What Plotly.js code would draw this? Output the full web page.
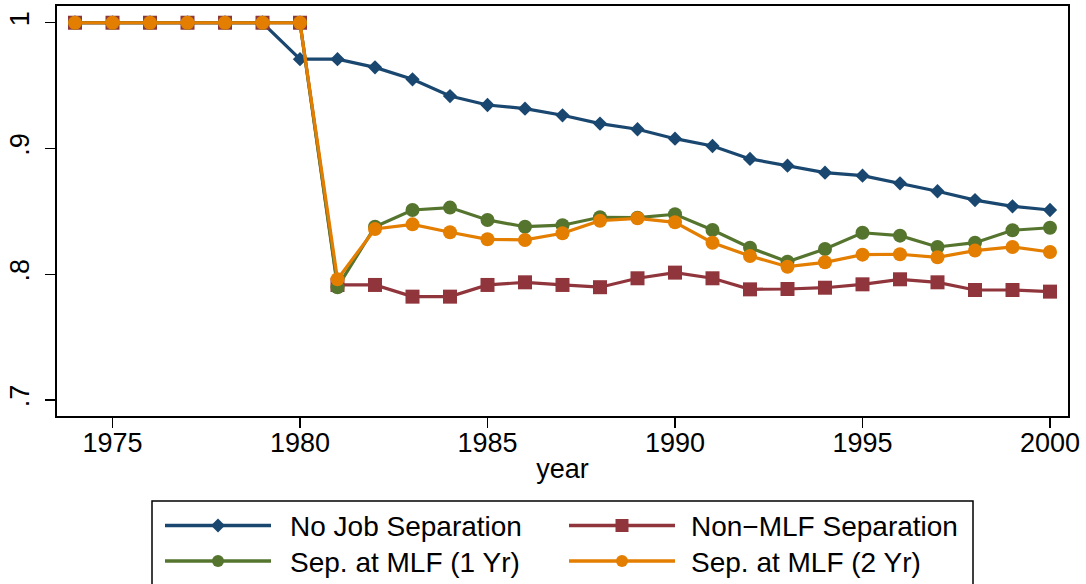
<!DOCTYPE html>
<html>
<head>
<meta charset="utf-8">
<script src="https://cdn.plot.ly/plotly-3.0.1.min.js"></script>
<style>html,body{margin:0;padding:0;background:#fff;}#chart{width:1086px;height:584px;}</style>
</head>
<body>
<div id="chart"></div>
<script>
const years = [1974,1975,1976,1977,1978,1979,1980,1981,1982,1983,1984,1985,1986,1987,1988,1989,1990,1991,1992,1993,1994,1995,1996,1997,1998,1999,2000];
const noJobSep = [1,1,1,1,1,1,0.971,0.971,0.9645,0.955,0.9417,0.9346,0.9317,0.9264,0.9198,0.9153,0.9078,0.902,0.8917,0.8863,0.8808,0.8784,0.8723,0.866,0.859,0.854,0.8511];
const nonMLFSep = [1,1,1,1,1,1,1,0.7915,0.7915,0.7822,0.7822,0.7915,0.7936,0.7915,0.7897,0.7968,0.8013,0.7968,0.788,0.7883,0.7893,0.792,0.796,0.7936,0.7875,0.7875,0.7862];
const sepMLF1 = [1,1,1,1,1,1,1,0.7897,0.8378,0.8511,0.853,0.8432,0.8378,0.839,0.8453,0.845,0.8477,0.8352,0.8211,0.81,0.8201,0.833,0.8307,0.8217,0.8251,0.835,0.837];
const sepMLF2 = [1,1,1,1,1,1,1,0.796,0.836,0.8397,0.8334,0.8278,0.8273,0.8326,0.8426,0.8445,0.8413,0.8251,0.8145,0.806,0.8095,0.8156,0.8159,0.8135,0.8188,0.8217,0.8177];
const seriesNames = ["No Job Separation","Non\u2212MLF Separation","Sep. at MLF (1 Yr)","Sep. at MLF (2 Yr)"];
const xTicks = [1975,1980,1985,1990,1995,2000];
const yTickVals = [0.7,0.8,0.9,1];
const yTickText = [".7",".8",".9","1"];

const colors = ["#1a476f","#90353b","#55752f","#e37e00"];
const symbols = ["diamond","square","circle","circle"];
const sizes = [11,14,14,14];
const vals = [noJobSep, nonMLFSep, sepMLF1, sepMLF2];

const traces = vals.map((v,i)=>({
  x: years, y: v, type:"scatter", mode:"lines+markers", name: seriesNames[i],
  line:{color:colors[i], width:3.2},
  marker:{color:colors[i], symbol:symbols[i], size:sizes[i]},
  showlegend:false
}));

// plot area in pixels (for the hand-built legend box below the plot)
const W = 1086, H = 584, L = 57, R = 18, T = 6, B = 168;
const pw = W - L - R, ph = H - T - B;
const px = x => (x - L) / pw;
const py = y => (H - B - y) / ph;

const shapes = [];
const annotations = [];
// legend frame
shapes.push({type:"rect", xref:"paper", yref:"paper", x0:px(152), x1:px(973), y0:py(501), y1:py(600),
  line:{color:"#000", width:1.5}, fillcolor:"rgba(0,0,0,0)"});
const cols = [{l0:165, l1:271, m:218, t:288},{l0:569, l1:675, m:622, t:689}];
const rows = [525.5, 561];
const slots = [[0,0],[0,1],[1,0],[1,1]]; // [row, col] of each series
slots.forEach(([r,c],i)=>{
  const yy = rows[r], cc = cols[c];
  shapes.push({type:"line", xref:"paper", yref:"paper", x0:px(cc.l0), x1:px(cc.l1), y0:py(yy), y1:py(yy),
    line:{color:colors[i], width:3.5}});
  const m = cc.m;
  if (symbols[i] === "diamond") {
    const d = 7;
    shapes.push({type:"path", xref:"paper", yref:"paper",
      path:`M${px(m-d)},${py(yy)} L${px(m)},${py(yy-d)} L${px(m+d)},${py(yy)} L${px(m)},${py(yy+d)} Z`,
      fillcolor:colors[i], line:{color:colors[i], width:0}});
  } else if (symbols[i] === "square") {
    const d = 6.5;
    shapes.push({type:"rect", xref:"paper", yref:"paper", x0:px(m-d), x1:px(m+d), y0:py(yy+d), y1:py(yy-d),
      fillcolor:colors[i], line:{color:colors[i], width:0}});
  } else {
    const d = 6;
    shapes.push({type:"circle", xref:"paper", yref:"paper", x0:px(m-d), x1:px(m+d), y0:py(yy+d), y1:py(yy-d),
      fillcolor:colors[i], line:{color:colors[i], width:0}});
  }
  annotations.push({xref:"paper", yref:"paper", x:px(cc.t), y:py(yy+1), xanchor:"left", yanchor:"middle",
    text:seriesNames[i], showarrow:false, font:{size:28, color:"#000"}});
});

const font = "Liberation Sans, Arial, sans-serif";
const layout = {
  width:W, height:H,
  margin:{l:L, r:R, t:T, b:B},
  paper_bgcolor:"#fff", plot_bgcolor:"#fff",
  font:{family:font, size:27, color:"#000"},
  showlegend:false,
  xaxis:{
    range:[1973.52,2000.48], tickvals:xTicks, ticks:"outside", ticklen:10, tickwidth:1.5, tickcolor:"#000",
    showline:true, mirror:true, linewidth:2, linecolor:"#000", showgrid:false, zeroline:false, automargin:false,
    tickfont:{size:27}, ticklabelstandoff:-8, title:{text:"year", font:{size:27}, standoff:2}
  },
  yaxis:{
    range:[0.6873,1.0133], tickvals:yTickVals, ticktext:yTickText, tickangle:-90, ticks:"outside", ticklen:10, tickwidth:1.5, tickcolor:"#000",
    showline:true, mirror:true, linewidth:2, linecolor:"#000", showgrid:false, zeroline:false, automargin:false,
    tickfont:{size:27}, ticklabelstandoff:5
  },
  shapes: shapes,
  annotations: annotations
};
Plotly.newPlot("chart", traces, layout, {displayModeBar:false, staticPlot:true});
</script>
</body>
</html>
